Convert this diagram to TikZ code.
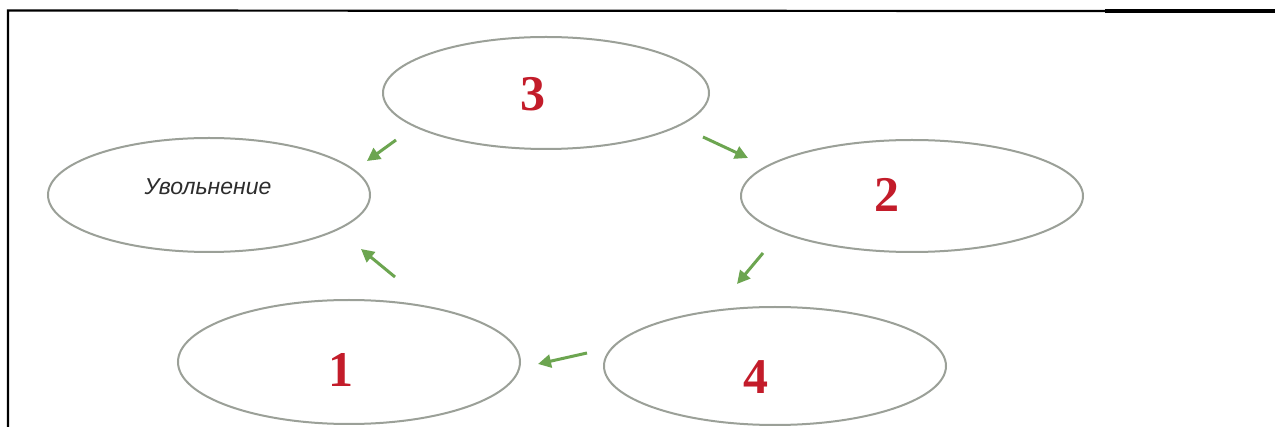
\documentclass[tikz,border=0pt]{standalone}
\usepackage{fontspec}
\usetikzlibrary{shapes.geometric,arrows.meta}
\newfontfamily\digitfont{Liberation Serif}
\newfontfamily\labfont{Liberation Sans}
\definecolor{ringgray}{RGB}{155,160,152}
\definecolor{arrowgreen}{RGB}{108,165,80}
\definecolor{digitred}{RGB}{195,28,42}
\definecolor{labgray}{RGB}{45,45,45}
\tikzset{
  ring/.style={ellipse,draw=ringgray,line width=2pt,inner sep=0pt,fill=white},
  digit/.style={font=\digitfont\bfseries\fontsize{50}{50}\selectfont,text=digitred,inner sep=0pt},
  flow/.style={draw=arrowgreen,line width=3pt,-{Triangle[length=13pt,width=13pt]}},
  frame/.style={line width=2.2pt,draw=black}
}
\begin{document}
\begin{tikzpicture}[x=1pt,y=-1pt]
\useasboundingbox (0,0) rectangle (1275,427);
\fill[white] (0,0) rectangle (1275,427);
% frame
\coordinate (ftl) at (8,10.5);
\coordinate (fbl) at (8,427);
\coordinate (fmid) at (1105,11);
\coordinate (ftr) at (1275,11);
\draw[frame] (fbl) -- (ftl) -- (fmid);
\draw[line width=3.4pt] (fmid) -- (ftr);
% ellipses
\node[ring,minimum width=326pt,minimum height=112pt] (e3) at (546,93) {};
\node[ring,minimum width=322pt,minimum height=114pt] (eu) at (209,195) {};
\node[ring,minimum width=342pt,minimum height=112pt] (e2) at (912,196) {};
\node[ring,minimum width=342pt,minimum height=124pt] (e1) at (349,362) {};
\node[ring,minimum width=342pt,minimum height=118pt] (e4) at (775,366) {};
% texts
\node[digit] (t3) at (533,94) {3};
\node[digit] (t2) at (887,195) {2};
\node[digit] (t1) at (341,370) {1};
\node[digit] (t4) at (756,377) {4};
\node[font=\labfont\itshape\fontsize{23}{23}\selectfont,text=labgray,inner sep=0pt] (tu) at (208,187) {Увольнение};
% arrows
\coordinate (a1s) at (396,140); \coordinate (a1e) at (367,161);
\coordinate (a2s) at (703,137); \coordinate (a2e) at (748,158);
\coordinate (a3s) at (763,253); \coordinate (a3e) at (737,284);
\coordinate (a4s) at (587,353); \coordinate (a4e) at (538,364);
\coordinate (a5s) at (395,277); \coordinate (a5e) at (361,249);
\draw[flow] (a1s) -- (a1e);
\draw[flow] (a2s) -- (a2e);
\draw[flow] (a3s) -- (a3e);
\draw[flow] (a4s) -- (a4e);
\draw[flow] (a5s) -- (a5e);
\end{tikzpicture}
\end{document}
